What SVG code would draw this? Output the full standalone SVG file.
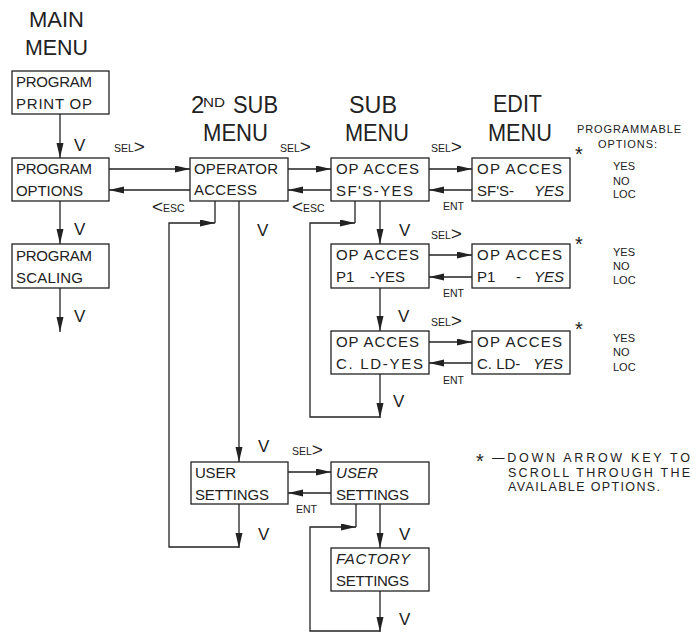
<svg xmlns="http://www.w3.org/2000/svg" width="696" height="635" viewBox="0 0 696 635">
<style>
.box{fill:#fff;stroke:#222;stroke-width:1.3}
.ln{fill:none;stroke:#222;stroke-width:1.3}
.t{font-family:"Liberation Sans",Arial,sans-serif;fill:#222}
.ti{font-size:24px}
.bt{font-size:15px}
.it{font-style:italic}
.sm{font-size:10.5px}
.big{font-size:19px}
.v{font-size:17px}
.op{font-size:11px}
.ast{font-size:20px}
.fn{font-size:12.5px}
</style>
<defs>
<marker id="ah" markerUnits="userSpaceOnUse" markerWidth="16" markerHeight="8" refX="15" refY="3.5" orient="auto">
<path d="M0,0 L15,3.5 L0,7 z" fill="#222"/>
</marker>
</defs>
<rect width="696" height="635" fill="#fff"/>

<g id="titles" class="t ti">
<text x="29" y="27" font-size="22" textLength="55" lengthAdjust="spacingAndGlyphs">MAIN</text>
<text x="25" y="55" font-size="22" textLength="63" lengthAdjust="spacingAndGlyphs">MENU</text>
<text x="191" y="113">2</text>
<text x="203" y="107" font-size="12" textLength="22" lengthAdjust="spacingAndGlyphs">ND</text>
<text x="233" y="113" textLength="45" lengthAdjust="spacingAndGlyphs">SUB</text>
<text x="203" y="141" textLength="65" lengthAdjust="spacingAndGlyphs">MENU</text>
<text x="349" y="113" textLength="48" lengthAdjust="spacingAndGlyphs">SUB</text>
<text x="345" y="141" textLength="64" lengthAdjust="spacingAndGlyphs">MENU</text>
<text x="493" y="112" textLength="49" lengthAdjust="spacingAndGlyphs">EDIT</text>
<text x="488" y="141" textLength="64" lengthAdjust="spacingAndGlyphs">MENU</text>
</g>

<g id="connectors">
<path class="ln" d="M60,114 V158" marker-end="url(#ah)"/>
<path class="ln" d="M60,201 V244" marker-end="url(#ah)"/>
<path class="ln" d="M60,288 V332" marker-end="url(#ah)"/>
<path class="ln" d="M109,169 H190" marker-end="url(#ah)"/>
<path class="ln" d="M190,190 H109" marker-end="url(#ah)"/>
<path class="ln" d="M288,169 H331" marker-end="url(#ah)"/>
<path class="ln" d="M331,190 H288" marker-end="url(#ah)"/>
<path class="ln" d="M429,169 H472" marker-end="url(#ah)"/>
<path class="ln" d="M472,190 H429" marker-end="url(#ah)"/>
<path class="ln" d="M429,255 H472" marker-end="url(#ah)"/>
<path class="ln" d="M472,277 H429" marker-end="url(#ah)"/>
<path class="ln" d="M429,342 H472" marker-end="url(#ah)"/>
<path class="ln" d="M472,363 H429" marker-end="url(#ah)"/>
<path class="ln" d="M380,201 V244" marker-end="url(#ah)"/>
<path class="ln" d="M380,288 V331" marker-end="url(#ah)"/>
<path class="ln" d="M380,374 V418" marker-end="url(#ah)"/>
<path class="ln" d="M380,417 H310 V223 H355" marker-end="url(#ah)"/>
<path class="ln" d="M355,223 V201"/>
<path class="ln" d="M239,201 V462" marker-end="url(#ah)"/>
<path class="ln" d="M239,504 V548" marker-end="url(#ah)"/>
<path class="ln" d="M239,547 H169 V223 H215" marker-end="url(#ah)"/>
<path class="ln" d="M215,223 V201"/>
<path class="ln" d="M288,472 H331" marker-end="url(#ah)"/>
<path class="ln" d="M331,493 H288" marker-end="url(#ah)"/>
<path class="ln" d="M380,504 V548" marker-end="url(#ah)"/>
<path class="ln" d="M380,591 V632" marker-end="url(#ah)"/>
<path class="ln" d="M380,631 H310 V527 H356" marker-end="url(#ah)"/>
<path class="ln" d="M356,527 V504"/>
</g>

<g id="labels" class="t">
<g class="v">
<text x="74" y="151">V</text>
<text x="74" y="235">V</text>
<text x="74" y="322">V</text>
<text x="257" y="236">V</text>
<text x="258" y="452">V</text>
<text x="258" y="540">V</text>
<text x="399" y="236">V</text>
<text x="398" y="322">V</text>
<text x="393" y="407">V</text>
<text x="399" y="540">V</text>
<text x="399" y="625">V</text>
</g>
<g class="sm">
<text x="114" y="152">SEL<tspan class="big" dy="1">&gt;</tspan></text>
<text x="280" y="152">SEL<tspan class="big" dy="1">&gt;</tspan></text>
<text x="431" y="152">SEL<tspan class="big" dy="1">&gt;</tspan></text>
<text x="431" y="239">SEL<tspan class="big" dy="1">&gt;</tspan></text>
<text x="431" y="326">SEL<tspan class="big" dy="1">&gt;</tspan></text>
<text x="292" y="455">SEL<tspan class="big" dy="1">&gt;</tspan></text>
<text x="152" y="212"><tspan class="big" dy="1">&lt;</tspan><tspan dy="-1">ESC</tspan></text>
<text x="292" y="212"><tspan class="big" dy="1">&lt;</tspan><tspan dy="-1">ESC</tspan></text>
<text x="443" y="210">ENT</text>
<text x="443" y="297">ENT</text>
<text x="443" y="384">ENT</text>
<text x="296" y="513">ENT</text>
</g>
</g>

<g id="n-print-op">
<rect class="box" x="12" y="71" width="97" height="43"/>
<text class="t bt" x="16" y="87" textLength="76">PROGRAM</text>
<text class="t bt" x="16" y="109" textLength="76">PRINT OP</text>
</g>
<g id="n-options">
<rect class="box" x="12" y="158" width="97" height="43"/>
<text class="t bt" x="16" y="174" textLength="76">PROGRAM</text>
<text class="t bt" x="16" y="196" textLength="67">OPTIONS</text>
</g>
<g id="n-scaling">
<rect class="box" x="12" y="244" width="97" height="44"/>
<text class="t bt" x="16" y="261" textLength="76">PROGRAM</text>
<text class="t bt" x="16" y="283" textLength="67">SCALING</text>
</g>
<g id="n-operator">
<rect class="box" x="190" y="158" width="98" height="43"/>
<text class="t bt" x="194" y="174" textLength="84">OPERATOR</text>
<text class="t bt" x="194" y="195" textLength="63">ACCESS</text>
</g>
<g id="n-sub-sfs">
<rect class="box" x="331" y="158" width="98" height="43"/>
<text class="t bt" x="336" y="174" textLength="83">OP ACCES</text>
<text class="t bt" x="336" y="196" textLength="77">SF'S-YES</text>
</g>
<g id="n-sub-p1">
<rect class="box" x="331" y="244" width="98" height="44"/>
<text class="t bt" x="336" y="260" textLength="83">OP ACCES</text>
<text class="t bt" y="282"><tspan x="336">P1</tspan><tspan x="370">-YES</tspan></text>
</g>
<g id="n-sub-cld">
<rect class="box" x="331" y="331" width="98" height="43"/>
<text class="t bt" x="336" y="347" textLength="83">OP ACCES</text>
<text class="t bt" x="336" y="369" textLength="87">C. LD-YES</text>
</g>
<g id="n-edit-sfs">
<rect class="box" x="472" y="158" width="98" height="43"/>
<text class="t bt" x="477" y="174" textLength="85">OP ACCES</text>
<text class="t bt" y="196"><tspan x="477">SF'S-</tspan><tspan x="534" class="it">YES</tspan></text>
</g>
<g id="n-edit-p1">
<rect class="box" x="472" y="244" width="98" height="44"/>
<text class="t bt" x="477" y="260" textLength="85">OP ACCES</text>
<text class="t bt" y="282"><tspan x="477">P1</tspan><tspan x="516">-</tspan><tspan x="534" class="it">YES</tspan></text>
</g>
<g id="n-edit-cld">
<rect class="box" x="472" y="331" width="98" height="43"/>
<text class="t bt" x="477" y="347" textLength="85">OP ACCES</text>
<text class="t bt" y="369"><tspan x="477">C. LD-</tspan><tspan x="533" class="it">YES</tspan></text>
</g>
<g id="n-user">
<rect class="box" x="191" y="462" width="97" height="42"/>
<text class="t bt" x="195" y="478" textLength="41">USER</text>
<text class="t bt" x="195" y="500" textLength="74">SETTINGS</text>
</g>
<g id="n-user-edit">
<rect class="box" x="331" y="462" width="98" height="42"/>
<text class="t bt it" x="336" y="478" textLength="42">USER</text>
<text class="t bt" x="336" y="500" textLength="73">SETTINGS</text>
</g>
<g id="n-factory">
<rect class="box" x="331" y="548" width="98" height="43"/>
<text class="t bt it" x="336" y="564" textLength="74">FACTORY</text>
<text class="t bt" x="336" y="586" textLength="73">SETTINGS</text>
</g>

<g id="options" class="t">
<text class="op" x="577" y="133" textLength="104">PROGRAMMABLE</text>
<text class="op" x="598" y="148" textLength="59">OPTIONS:</text>
<text class="ast" x="575" y="161">*</text>
<text class="ast" x="575" y="251">*</text>
<text class="ast" x="575" y="336">*</text>
<g class="op">
<text x="613" y="170">YES</text>
<text x="613" y="185">NO</text>
<text x="613" y="198">LOC</text>
<text x="613" y="256">YES</text>
<text x="613" y="270">NO</text>
<text x="613" y="284">LOC</text>
<text x="613" y="342">YES</text>
<text x="613" y="356">NO</text>
<text x="613" y="371">LOC</text>
</g>
</g>

<g id="footnote" class="t fn">
<text x="476" y="468" class="ast">*</text>
<text x="492" y="462" textLength="198">—DOWN ARROW KEY TO</text>
<text x="508" y="477" textLength="182">SCROLL THROUGH THE</text>
<text x="508" y="491" textLength="152">AVAILABLE OPTIONS.</text>
</g>
</svg>
